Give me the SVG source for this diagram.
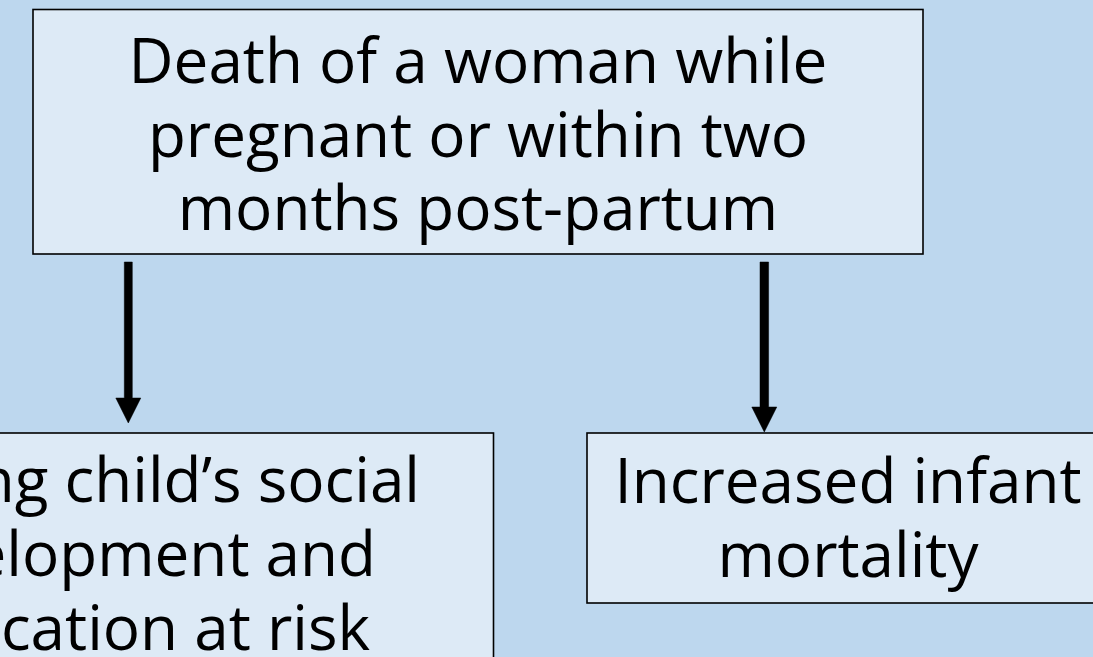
<svg xmlns="http://www.w3.org/2000/svg" width="1093" height="657" viewBox="0 0 1093 657">
<defs>
<style>
.box{fill:#DDEAF6;stroke:#000;stroke-width:1.6}
.t{font-family:"Open Sans","DejaVu Sans",sans-serif;font-size:62px;fill:#000}
.c{text-anchor:middle}
.e{text-anchor:end}
.arr{fill:#000;stroke:#000;stroke-width:0.5}
</style>
</defs>
<rect x="0" y="0" width="1093" height="657" fill="#BDD7EE"/>
<g id="node-top">
<rect class="box" x="33" y="9.5" width="890" height="244.5"/>
<text class="t c" x="478" y="83">Death of a woman while</text>
<text class="t c" x="478" y="156.5">pregnant or within two</text>
<text class="t c" x="478" y="230">months post-partum</text>
</g>
<g id="node-left">
<rect class="box" x="-40" y="433" width="533.5" height="260"/>
<text class="t e" x="420" y="502">ng child’s social</text>
<text class="t e" x="376" y="576">elopment and</text>
<text class="t e" x="370" y="650">cation at risk</text>
</g>
<g id="node-right">
<rect class="box" x="587" y="433" width="530" height="170"/>
<text class="t c" x="848" y="503">Increased infant</text>
<text class="t c" x="848" y="577">mortality</text>
</g>
<g id="connectors">
<path class="arr" d="M124.3,262 H132.3 V398 H140.8 L128.3,423 L115.8,398 H124.3 Z"/>
<path class="arr" d="M760,262 H768.6 V407 H776.8 L764.3,432 L751.8,407 H760 Z"/>
</g>
</svg>
